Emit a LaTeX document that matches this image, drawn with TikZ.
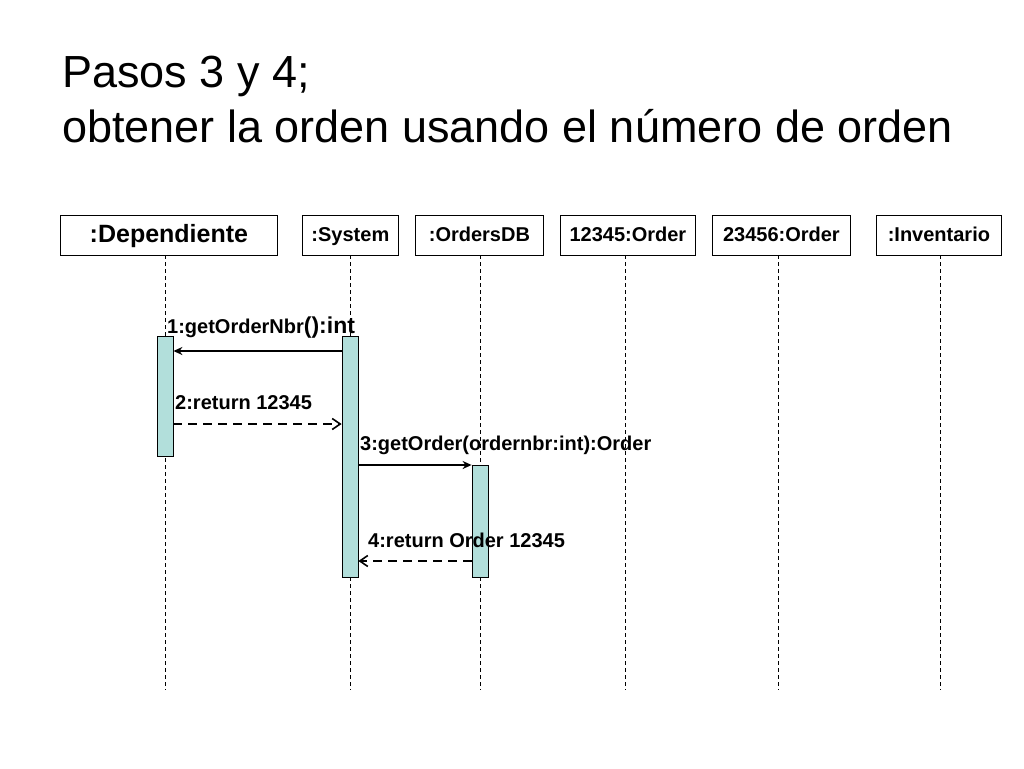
\documentclass[tikz,border=0pt]{standalone}
\usepackage{fontspec}
\setmainfont{Liberation Sans}
\usetikzlibrary{arrows.meta}
\definecolor{actc}{HTML}{B2DFDB}
\begin{document}
\begin{tikzpicture}[x=1pt,y=-1pt,
 obj/.style={draw,line width=0.8pt,minimum height=40pt,inner sep=0pt,text height=14pt,text depth=2pt,font=\bfseries\fontsize{20}{22}\selectfont,anchor=north west},
 life/.style={dash pattern=on 4pt off 3pt,line width=0.8pt},
 act/.style={draw,fill=actc,line width=0.8pt,minimum width=16pt,inner sep=0pt,anchor=north},
 lbl/.style={font=\bfseries\fontsize{20}{22}\selectfont,anchor=base west,inner sep=0pt},
 msg/.style={line width=1.6pt,-{Stealth[length=9pt,width=8pt]}},
 ret/.style={line width=1.6pt,dash pattern=on 9pt off 6pt,-{Straight Barb[length=8pt,width=11pt]}}]
\useasboundingbox (0,0) rectangle (1024,768);
\node[anchor=base west,inner sep=0pt,font=\fontsize{45}{52}\selectfont] (t1) at (62,87) {Pasos 3 y 4;};
\node[anchor=base west,inner sep=0pt,font=\fontsize{45}{52}\selectfont] (t2) at (62,142) {obtener la orden usando el número de orden};
\node[obj,minimum width=217pt,font=\bfseries\fontsize{25}{28}\selectfont,text height=18pt,text depth=3pt] (d) at (60,215) {:Dependiente};
\node[obj,minimum width=96pt] (s) at (302,215) {:System};
\node[obj,minimum width=128pt] (o) at (415,215) {:OrdersDB};
\node[obj,minimum width=135pt] (a) at (560,215) {12345:Order};
\node[obj,minimum width=138pt] (b) at (712,215) {23456:Order};
\node[obj,minimum width=125pt] (i) at (876,215) {:Inventario};
\foreach \n/\x in {d/165,s/350,o/480,a/625,b/778,i/940}{
  \coordinate (e\n) at (\x,690);
  \draw[life] (\x,255) -- (e\n);}
\node[act,minimum height=120pt] (ad) at (165,336) {};
\node[act,minimum height=241pt] (as) at (350,336) {};
\node[act,minimum height=112pt] (ao) at (480,465) {};
\draw[msg] (as.west|-0,351) -- (ad.east|-0,351);
\node[lbl] (l1) at (167,333) {1:getOrderNbr\fontsize{23}{25}\selectfont():int};
\draw[ret] (ad.east|-0,424) -- (as.west|-0,424);
\node[lbl] (l2) at (175,409) {2:return 12345};
\draw[msg] (as.east|-0,465) -- (ao.west|-0,465);
\node[lbl] (l3) at (360,450) {3:getOrder(ordernbr:int):Order};
\draw[ret] (ao.west|-0,561) -- (as.east|-0,561);
\node[lbl] (l4) at (368,547) {4:return Order 12345};
\end{tikzpicture}
\end{document}
